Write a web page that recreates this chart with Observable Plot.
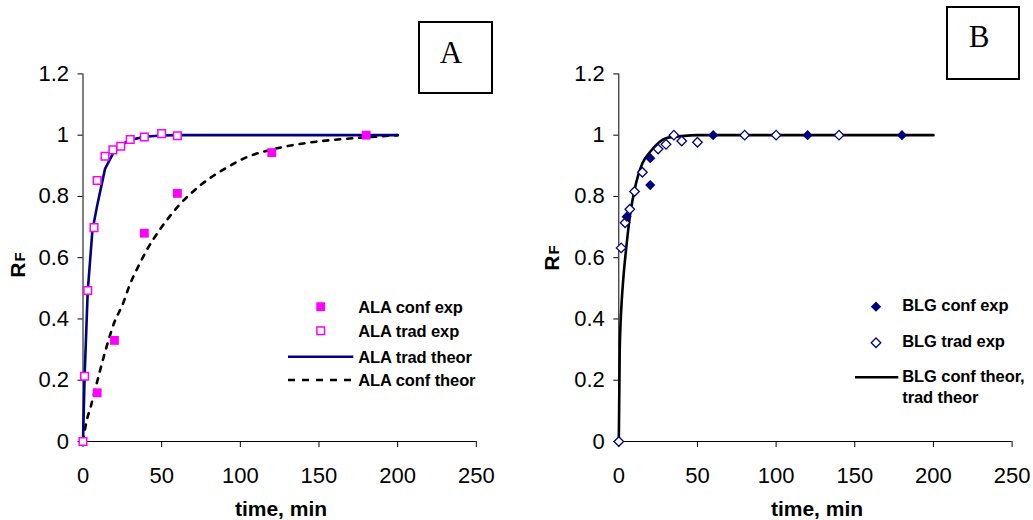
<!DOCTYPE html>
<html><head><meta charset="utf-8">
<script src="https://cdn.jsdelivr.net/npm/d3@7"></script>
<script src="https://cdn.jsdelivr.net/npm/@observablehq/plot@0.6"></script>
<style>
body{margin:0;background:#fff;}
#wrap{display:flex;width:1033px;height:520px;overflow:hidden;}
svg{font-family:"Liberation Sans",Arial,sans-serif;overflow:visible;}
</style></head><body><div id="wrap"></div>
<script>
// ---- axes ----
const xTicks = [0, 50, 100, 150, 200, 250];
const yTicks = [0, 0.2, 0.4, 0.6, 0.8, 1, 1.2];

// ---- Panel A: ALA ----
const alaTradExpTime = [0, 1, 3, 7, 9, 14, 19, 24, 30, 39, 50, 60];
const alaTradExpRF   = [0, 0.213, 0.493, 0.698, 0.852, 0.931, 0.952, 0.964, 0.986, 0.994, 1.005, 0.998];
const alaConfExpTime = [9, 20, 39, 60, 120, 180];
const alaConfExpRF   = [0.159, 0.33, 0.68, 0.81, 0.943, 1.0];
const alaTradTheorTime = [0, 1, 3, 6, 9, 14, 19, 24, 29, 39, 50, 60, 100, 150, 200];
const alaTradTheorRF   = [0, 0.21, 0.49, 0.69, 0.77, 0.89, 0.94, 0.965, 0.983, 0.995, 0.999, 1, 1, 1, 1];
const alaConfTheorTime = [0, 2, 5, 10, 15, 20, 25, 30, 35, 40, 50, 60, 75, 90, 105, 120, 140, 160, 180, 200];
const alaConfTheorRF   = [0, 0.06, 0.115, 0.215, 0.31, 0.39, 0.445, 0.515, 0.57, 0.62, 0.70, 0.765, 0.838, 0.89, 0.93, 0.953, 0.973, 0.985, 0.993, 1.0];

// ---- Panel B: BLG ----
const blgTradExpTime = [0, 1.5, 4, 7, 10, 15, 25, 30, 35, 40, 50, 80, 100, 140];
const blgTradExpRF   = [0, 0.632, 0.714, 0.758, 0.816, 0.879, 0.955, 0.97, 1.0, 0.981, 0.977, 1, 1, 1];
const blgConfExpTime = [5, 20, 20, 60, 120, 180];
const blgConfExpRF   = [0.734, 0.925, 0.837, 1, 1, 1];
const blgTheorTime = [0, 0.6, 1, 2, 3, 5, 7, 10, 15, 20, 25, 30, 40, 50, 200];
const blgTheorRF   = [0, 0.3, 0.37, 0.47, 0.54, 0.645, 0.734, 0.821, 0.908, 0.946, 0.974, 0.99, 0.997, 1, 1];

const legendA = ["ALA conf exp", "ALA trad exp", "ALA trad theor", "ALA conf theor"];
const legendB = ["BLG conf exp", "BLG trad exp", "BLG conf theor,", "trad theor"];

const zip = (t, r) => t.map((d, i) => ({t: d, r: r[i]}));
const MAG = "#FF00FF", NAVY = "#000080";

function panel(width, marginLeft, marks) {
  return Plot.plot({
    width, height: 520,
    marginLeft, marginRight: width - marginLeft - 393.3,
    marginTop: 73.4, marginBottom: 79,
    x: {domain: [0, 250]},
    y: {domain: [0, 1.2]},
    style: {fontFamily: "Liberation Sans, Arial, sans-serif", fontSize: "22px", color: "#000", background: "transparent", overflow: "visible"},
    marks: [
      Plot.axisX({ticks: xTicks, tickSize: 6, tickPadding: 20, label: null, tickFormat: d => d, fontSize: 22}),
      Plot.axisY({ticks: yTicks, tickSize: 5, tickPadding: 9, label: null, tickFormat: d => d, fontSize: 22}),
      Plot.ruleX([0], {y1: 0, y2: 1.2, stroke: "#000"}),
      Plot.ruleY([0], {x1: 0, x2: 250, stroke: "#000"}),
      ...marks
    ]
  });
}

const left = panel(536, 82.5, [
  Plot.line(zip(alaConfTheorTime, alaConfTheorRF), {x: "t", y: "r", stroke: "#000", strokeWidth: 2.6, strokeDasharray: "5,7", curve: "monotone-x"}),
  Plot.line(zip(alaTradTheorTime, alaTradTheorRF), {x: "t", y: "r", stroke: NAVY, strokeWidth: 2.6}),
  Plot.dot(zip(alaConfExpTime, alaConfExpRF), {x: "t", y: "r", symbol: "square", r: 5, fill: MAG, stroke: "none"}),
  Plot.dot(zip(alaTradExpTime, alaTradExpRF), {x: "t", y: "r", symbol: "square", r: 4.3, fill: "white", stroke: MAG, strokeWidth: 1.5})
]);

const right = panel(497, 82.3, [
  Plot.line(zip(blgTheorTime, blgTheorRF), {x: "t", y: "r", stroke: "#000", strokeWidth: 2.6, curve: "monotone-x"}),
  Plot.dot(zip(blgTradExpTime, blgTradExpRF), {x: "t", y: "r", symbol: "diamond2", r: 4.3, fill: "white", stroke: NAVY, strokeWidth: 1.3}),
  Plot.dot(zip(blgConfExpTime, blgConfExpRF), {x: "t", y: "r", symbol: "diamond2", r: 4.6, fill: NAVY, stroke: "none"})
]);

const wrap = document.getElementById("wrap");
wrap.appendChild(left);
wrap.appendChild(right);

function decorate(svgEl, o) {
  const svg = d3.select(svgEl);
  svg.append("rect").attr("x", o.box[0]).attr("y", o.box[1]).attr("width", o.box[2]).attr("height", o.box[3])
    .attr("fill", "white").attr("stroke", "#000").attr("stroke-width", 2);
  svg.append("text").attr("x", o.letterX).attr("y", o.letterY).attr("text-anchor", "middle")
    .attr("font-family", "Liberation Serif, Times New Roman, serif").attr("font-size", 31).attr("fill", "#000").text(o.letter);
  svg.append("text").attr("x", 281).attr("y", 516).attr("text-anchor", "middle")
    .attr("font-weight", "bold").attr("font-size", 21).attr("fill", "#000").text("time, min");
  const yt = svg.append("text").attr("transform", `translate(${o.rfX},${o.rfY}) rotate(-90)`).attr("text-anchor", "middle")
    .attr("font-weight", "bold").attr("font-size", 21).attr("fill", "#000");
  yt.append("tspan").text("R");
  yt.append("tspan").attr("font-size", 15).attr("dx", 1).text("F");
}

decorate(left, {box: [419, 22, 73, 71], letter: "A", letterX: 451, letterY: 63, rfX: 25, rfY: 265});
decorate(right, {box: [411, 7, 72, 72], letter: "B", letterX: 443, letterY: 47, rfX: 23, rfY: 258});

function legText(svg, x, y, s) {
  svg.append("text").attr("x", x).attr("y", y).attr("dy", "0.36em").attr("text-anchor", "start").attr("font-weight", "bold")
    .attr("font-size", 16.5).attr("letter-spacing", "-0.1").attr("fill", "#000").text(s);
}
{
  const svg = d3.select(left);
  const sq = d3.symbol(d3.symbolSquare);
  svg.append("path").attr("transform", "translate(320.7,306.7)").attr("d", sq.size(Math.PI * 25)()).attr("fill", MAG);
  svg.append("path").attr("transform", "translate(320.7,330.7)").attr("d", sq.size(Math.PI * 4.3 * 4.3)()).attr("fill", "white").attr("stroke", MAG).attr("stroke-width", 1.5);
  svg.append("line").attr("x1", 288).attr("x2", 353.3).attr("y1", 356.7).attr("y2", 356.7).attr("stroke", NAVY).attr("stroke-width", 2.6);
  svg.append("line").attr("x1", 288).attr("x2", 353.3).attr("y1", 380).attr("y2", 380).attr("stroke", "#000").attr("stroke-width", 2.6).attr("stroke-dasharray", "7,7");
  [306.7, 330.7, 356.7, 380].forEach((y, i) => legText(svg, 358.3, y, legendA[i]));
}
{
  const svg = d3.select(right);
  const di = d3.symbol(d3.symbolDiamond2);
  svg.append("path").attr("transform", "translate(340,306.7)").attr("d", di.size(Math.PI * 4.6 * 4.6)()).attr("fill", NAVY);
  svg.append("path").attr("transform", "translate(340,342.7)").attr("d", di.size(Math.PI * 4.3 * 4.3)()).attr("fill", "white").attr("stroke", NAVY).attr("stroke-width", 1.3);
  svg.append("line").attr("x1", 319).attr("x2", 362.3).attr("y1", 377.3).attr("y2", 377.3).attr("stroke", "#000").attr("stroke-width", 2.6);
  [305, 340.7, 376, 396.7].forEach((y, i) => legText(svg, 366.3, y, legendB[i]));
}
</script>
</body></html>
